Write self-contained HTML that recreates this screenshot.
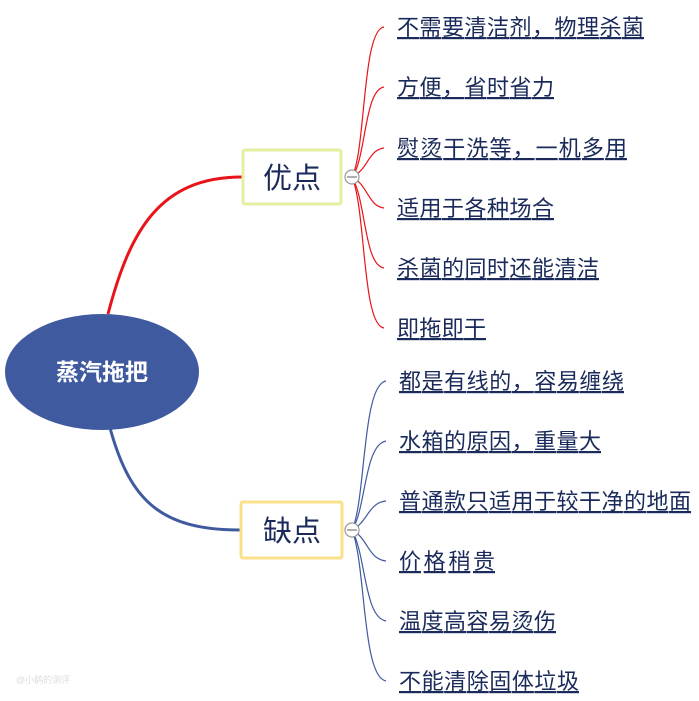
<!DOCTYPE html>
<html><head><meta charset="utf-8"><style>
html,body{margin:0;padding:0;background:#fff;}
svg{display:block;}
text{font-family:"Liberation Sans","Noto Sans CJK SC",sans-serif;}
.l{font-size:22px;fill:#1a2a5a;text-decoration:underline;}
</style></head><body>
<svg width="699" height="701" viewBox="0 0 699 701" xmlns="http://www.w3.org/2000/svg">
<path d="M108 314 C130 230,160 177,242 177" stroke="#e8141b" stroke-width="3" fill="none"/>
<path d="M110 428 C130 500,160 530,240 530" stroke="#3f5a9f" stroke-width="3" fill="none"/>
<g stroke="#e8141b" stroke-width="1.2" fill="none">
<path d="M352 177 C366 150,362 30,384 27"/>
<path d="M352 177 C366 160,364 90,384 87"/>
<path d="M352 177 C368 170,368 150,384 148"/>
<path d="M352 177 C368 185,368 206,384 208"/>
<path d="M352 177 C366 200,364 265,384 268"/>
<path d="M352 177 C366 210,362 325,384 328"/>
</g>
<g stroke="#3f5a9f" stroke-width="1.2" fill="none">
<path d="M352 530 C366 500,362 385,386 381"/>
<path d="M352 530 C366 510,364 445,386 441"/>
<path d="M352 530 C368 522,368 503,386 501"/>
<path d="M352 530 C368 538,368 559,386 561"/>
<path d="M352 530 C366 555,364 617,386 621"/>
<path d="M352 530 C366 565,362 677,386 681"/>
</g>
<ellipse cx="102" cy="372" rx="97" ry="58" fill="#3f5a9f"/>
<text x="102" y="380" text-anchor="middle" font-size="23" font-weight="bold" fill="#fff">蒸汽拖把</text>
<rect x="243" y="150" width="98" height="54" fill="#fff" stroke="#e6eea0" stroke-width="3" rx="2"/>
<text x="292" y="188" text-anchor="middle" font-size="29" fill="#1a2a5a">优点</text>
<rect x="241" y="502" width="101" height="56" fill="#fff" stroke="#fbe08a" stroke-width="3" rx="2"/>
<text x="292" y="541" text-anchor="middle" font-size="29" fill="#1a2a5a">缺点</text>
<circle cx="352" cy="177" r="7" fill="#fff" stroke="#999" stroke-width="1.2"/>
<line x1="347" y1="177" x2="357" y2="177" stroke="#777" stroke-width="1.2"/>
<circle cx="352" cy="530" r="7" fill="#fff" stroke="#999" stroke-width="1.2"/>
<line x1="347" y1="530" x2="357" y2="530" stroke="#777" stroke-width="1.2"/>
<text x="397" y="35" class="l" textLength="247">不需要清洁剂，物理杀菌</text>
<text x="397" y="95" class="l" textLength="157">方便，省时省力</text>
<text x="397" y="156" class="l" textLength="230">熨烫干洗等，一机多用</text>
<text x="397" y="216" class="l" textLength="157">适用于各种场合</text>
<text x="397" y="276" class="l" textLength="202">杀菌的同时还能清洁</text>
<text x="397" y="336" class="l" textLength="89">即拖即干</text>
<text x="399" y="389" class="l" textLength="225">都是有线的，容易缠绕</text>
<text x="399" y="449" class="l" textLength="202">水箱的原因，重量大</text>
<text x="399" y="509" class="l" textLength="292">普通款只适用于较干净的地面</text>
<text x="399" y="569" class="l" textLength="96">价格稍贵</text>
<text x="399" y="629" class="l" textLength="157">温度高容易烫伤</text>
<text x="399" y="689" class="l" textLength="180">不能清除固体垃圾</text>
<text x="16" y="683" font-size="9" fill="#ddd">@小鹤的测评</text>
</svg>
</body></html>
